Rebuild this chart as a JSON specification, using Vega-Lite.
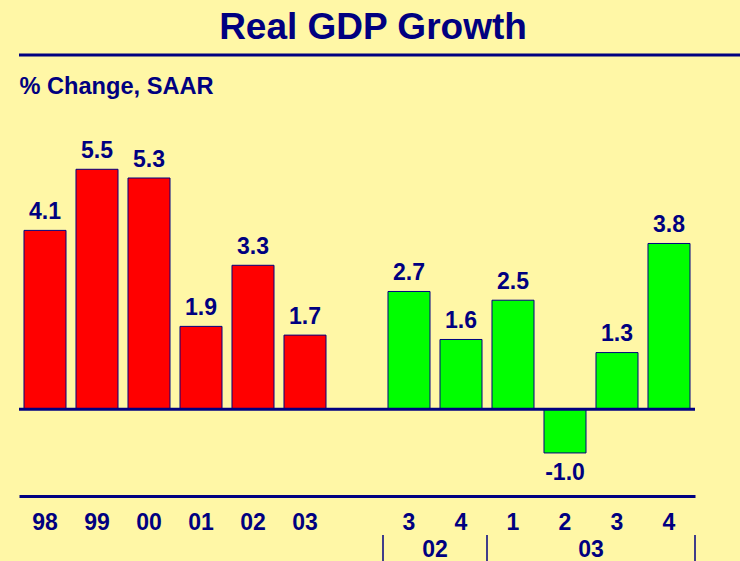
{
  "$schema": "https://vega.github.io/schema/vega-lite/v6.json",
  "width": 740,
  "height": 561,
  "padding": 0,
  "autosize": {"type": "none"},
  "background": "#FFF7A6",
  "config": {
    "view": {"stroke": null},
    "font": "Liberation Sans",
    "text": {"font": "Liberation Sans", "fontWeight": "bold", "color": "#000080"},
    "locale": {
      "number": {"decimal": ".", "thousands": ",", "grouping": [3], "currency": ["$", ""], "minus": "-"}
    }
  },
  "title": {
    "text": "Real GDP Growth",
    "anchor": "middle",
    "frame": "group",
    "offset": -76,
    "dx": 3,
    "baseline": "alphabetic",
    "font": "Liberation Sans",
    "fontSize": 37,
    "fontWeight": "bold",
    "color": "#000080"
  },
  "datasets": {
    "gdp": [
      {"id": "98", "period": "annual", "value": 4.1},
      {"id": "99", "period": "annual", "value": 5.5},
      {"id": "00", "period": "annual", "value": 5.3},
      {"id": "01", "period": "annual", "value": 1.9},
      {"id": "02", "period": "annual", "value": 3.3},
      {"id": "03", "period": "annual", "value": 1.7},
      {"id": "02Q3", "period": "quarterly", "value": 2.7},
      {"id": "02Q4", "period": "quarterly", "value": 1.6},
      {"id": "03Q1", "period": "quarterly", "value": 2.5},
      {"id": "03Q2", "period": "quarterly", "value": -1.0},
      {"id": "03Q3", "period": "quarterly", "value": 1.3},
      {"id": "03Q4", "period": "quarterly", "value": 3.8}
    ],
    "groups": [
      {"id": "02Q3", "group": "02"},
      {"id": "03Q2", "group": "03"}
    ],
    "separators": [
      {"id": "02Q3"},
      {"id": "03Q1"}
    ]
  },
  "encoding": {
    "x": {
      "field": "id",
      "type": "nominal",
      "sort": null,
      "scale": {
        "type": "band",
        "domain": ["98", "99", "00", "01", "02", "03", "gap", "02Q3", "02Q4", "03Q1", "03Q2", "03Q3", "03Q4"],
        "range": [19, 695],
        "paddingInner": 0,
        "paddingOuter": 0
      },
      "axis": {
        "orient": "bottom",
        "offset": -65,
        "title": null,
        "domain": true,
        "domainColor": "#000080",
        "domainWidth": 3,
        "ticks": false,
        "tickSize": 0,
        "grid": false,
        "labelAngle": 0,
        "labelBaseline": "alphabetic",
        "labelPadding": 33,
        "labelFont": "Liberation Sans",
        "labelFontSize": 23,
        "labelFontWeight": "bold",
        "labelColor": "#000080",
        "labelExpr": "datum.value == 'gap' ? '' : (length(datum.value) > 3 ? substring(datum.value, 3) : datum.value)"
      }
    },
    "y": {
      "type": "quantitative",
      "scale": {"domain": [-3.476, 9.379], "nice": false, "zero": false},
      "axis": {
        "title": "% Change, SAAR",
        "titleAngle": 0,
        "titleAlign": "left",
        "titleBaseline": "alphabetic",
        "titleX": 19,
        "titleY": 93,
        "titleFont": "Liberation Sans",
        "titleFontSize": 23.6,
        "titleFontWeight": "bold",
        "titleColor": "#000080",
        "labels": false,
        "ticks": false,
        "domain": false,
        "grid": false
      }
    }
  },
  "layer": [
    {
      "data": {"name": "gdp"},
      "mark": {"type": "bar", "width": {"band": 0.8077}, "stroke": "#000080", "strokeWidth": 1},
      "encoding": {
        "y": {"field": "value", "type": "quantitative"},
        "y2": {"datum": 0},
        "color": {
          "field": "period",
          "type": "nominal",
          "scale": {"domain": ["annual", "quarterly"], "range": ["#FF0000", "#00FF00"]},
          "legend": null
        }
      }
    },
    {
      "data": {"name": "gdp"},
      "transform": [{"filter": "datum.value >= 0"}],
      "mark": {"type": "text", "baseline": "alphabetic", "dy": -11.5, "fontSize": 23},
      "encoding": {
        "y": {"field": "value", "type": "quantitative"},
        "text": {"field": "value", "type": "quantitative", "format": ".1f"}
      }
    },
    {
      "data": {"name": "gdp"},
      "transform": [{"filter": "datum.value < 0"}],
      "mark": {"type": "text", "baseline": "alphabetic", "dy": 27, "fontSize": 23},
      "encoding": {
        "y": {"field": "value", "type": "quantitative"},
        "text": {"field": "value", "type": "quantitative", "format": ".1f"}
      }
    },
    {
      "data": {"values": [{}]},
      "mark": {"type": "rule", "color": "#000080", "strokeWidth": 3},
      "encoding": {
        "x": {"datum": "98", "bandPosition": 0},
        "x2": {"datum": "03Q4", "bandPosition": 1},
        "y": {"datum": 0}
      }
    },
    {
      "data": {"values": [{}]},
      "mark": {"type": "rule", "color": "#000080", "strokeWidth": 3},
      "encoding": {
        "x": {"datum": "98", "bandPosition": 0},
        "x2": {"value": "width"},
        "y": {"datum": 8.12}
      }
    },
    {
      "data": {"name": "separators"},
      "mark": {"type": "rule", "color": "#000080", "strokeWidth": 1.5},
      "encoding": {
        "x": {"field": "id", "type": "nominal", "bandPosition": 0},
        "y": {"datum": -2.88},
        "y2": {"datum": -3.476}
      }
    },
    {
      "data": {"values": [{"id": "03Q4"}]},
      "mark": {"type": "rule", "color": "#000080", "strokeWidth": 1.5},
      "encoding": {
        "x": {"field": "id", "type": "nominal", "bandPosition": 1},
        "y": {"datum": -2.88},
        "y2": {"datum": -3.476}
      }
    },
    {
      "data": {"name": "groups"},
      "mark": {"type": "text", "baseline": "alphabetic", "fontSize": 23},
      "encoding": {
        "x": {"field": "id", "type": "nominal", "bandPosition": 1},
        "y": {"datum": -3.385},
        "text": {"field": "group"}
      }
    }
  ]
}
